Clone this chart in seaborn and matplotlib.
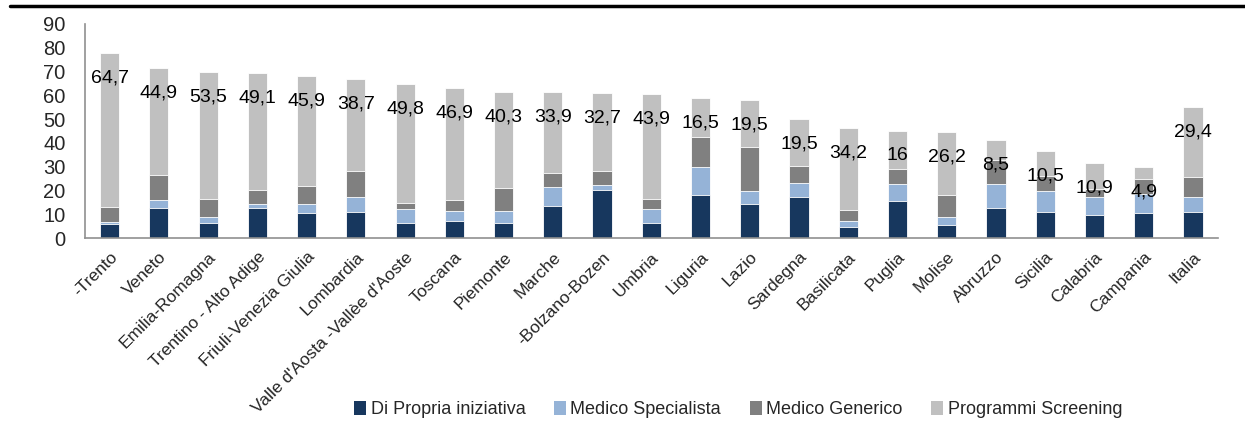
import numpy as np
import pandas as pd
import matplotlib
matplotlib.use('Agg')
import matplotlib.pyplot as plt
from matplotlib.patches import Patch
from matplotlib.lines import Line2D
import seaborn as sns

sns.set_style('white')
plt.rcParams['font.family'] = ['Liberation Sans', 'DejaVu Sans']

regions = [
    '-Trento', 'Veneto', 'Emilia-Romagna', 'Trentino - Alto Adige',
    'Friuli-Venezia Giulia', 'Lombardia', "Valle d'Aosta -Vallèe d'Aoste",
    'Toscana', 'Piemonte', 'Marche', '-Bolzano-Bozen', 'Umbria', 'Liguria',
    'Lazio', 'Sardegna', 'Basilicata', 'Puglia', 'Molise', 'Abruzzo',
    'Sicilia', 'Calabria', 'Campania', 'Italia',
]
propria = [6.0, 12.9, 6.6, 12.9, 10.5, 11.2, 6.6, 7.4, 6.6, 13.7, 20.4, 6.6,
           18.3, 14.3, 17.5, 4.9, 15.8, 5.6, 12.9, 11.2, 9.7, 10.5, 11.2]
specialista = [1.0, 3.2, 2.3, 1.5, 3.9, 6.3, 5.6, 4.1, 4.9, 7.8, 1.9, 5.6,
               11.6, 5.6, 5.6, 2.5, 7.1, 3.3, 10.0, 8.7, 7.8, 7.9, 6.3]
generico = [6.0, 10.6, 7.6, 6.0, 7.7, 10.8, 2.8, 4.7, 9.8, 6.1, 6.0, 4.3,
            12.4, 18.6, 7.4, 4.5, 6.2, 9.3, 10.0, 6.4, 3.1, 6.6, 8.4]
screening = [64.7, 44.9, 53.5, 49.1, 45.9, 38.7, 49.8, 46.9, 40.3, 33.9, 32.7,
             43.9, 16.5, 19.5, 19.5, 34.2, 16.0, 26.2, 8.5, 10.5, 10.9, 4.9, 29.4]

series_names = ['Di Propria iniziativa', 'Medico Specialista',
                'Medico Generico', 'Programmi Screening']
colors = ['#17375E', '#95B3D7', '#808080', '#C0C0C0']

df = pd.DataFrame({
    'Regione': regions,
    series_names[0]: propria,
    series_names[1]: specialista,
    series_names[2]: generico,
    series_names[3]: screening,
})
# cumulative heights so that overlaying bars gives a stacked look
cum = df[series_names].cumsum(axis=1)

fig = plt.figure(figsize=(12.45, 4.34), dpi=100)
ax = fig.add_axes([0.0683, 0.451, 0.9097, 0.494])

for name, col in reversed(list(zip(series_names, colors))):
    sns.barplot(x=df['Regione'], y=cum[name], color=col, width=0.39,
                edgecolor='white', linewidth=0.6, saturation=1, ax=ax)

totals = cum[series_names[-1]].values
for i, (tot, val) in enumerate(zip(totals, screening)):
    ax.annotate(f'{val:g}'.replace('.', ','), xy=(i, tot),
                xytext=(0, -18), textcoords='offset points',
                ha='center', va='center', fontsize=14, color='black')

ax.set_ylim(0, 90)
ax.set_xlim(-0.5, len(regions) - 0.5)
ax.set_yticks(range(0, 91, 10))
ax.set_xticks(range(len(regions)))
ax.set_xticklabels(regions, rotation=45, ha='right', rotation_mode='anchor',
                   fontsize=12.5)
ax.set_xticks(np.arange(-0.5, len(regions), 1), minor=True)
ax.tick_params(axis='x', which='major', length=0, pad=8)
ax.tick_params(axis='x', which='minor', length=5, color='#909090', width=1)
ax.tick_params(axis='y', length=6, color='#909090', width=1, labelsize=14.5,
               pad=8)
ax.set_xlabel('')
ax.set_ylabel('')
for side in ['top', 'right']:
    ax.spines[side].set_visible(False)
for side in ['left', 'bottom']:
    ax.spines[side].set_color('#909090')
    ax.spines[side].set_linewidth(1.2)

handles = [Patch(facecolor=c, edgecolor='none') for c in colors]
fig.legend(handles, series_names, loc='center', bbox_to_anchor=(0.593, 0.056),
           ncol=4, frameon=False, fontsize=13, handlelength=0.65,
           handleheight=0.75, handletextpad=0.25, columnspacing=1.6)

fig.add_artist(Line2D([0.008, 1.0], [0.987, 0.987], color='black',
                      linewidth=2.5, transform=fig.transFigure))

plt.savefig('out.png', dpi=100)
